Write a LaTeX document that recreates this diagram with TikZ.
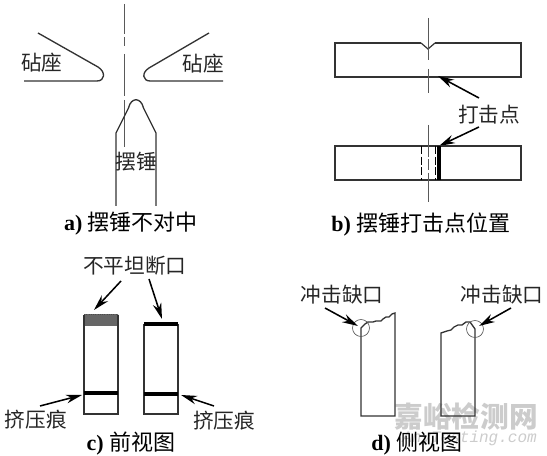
\documentclass[tikz,border=0pt]{standalone}
\usepackage{fontspec}
\setmainfont{Liberation Serif}
\setmonofont{Liberation Mono}
\newfontfamily\cjk{Noto Sans CJK SC}
\usetikzlibrary{arrows.meta}
\tikzset{
 ln/.style={line width=0.9pt,draw=black!80},
 axis/.style={line width=0.7pt,draw=black!65},
 pointer/.style={line width=1.15pt,draw=black,-{Stealth[length=12pt,width=6.5pt]}},
 lab/.style={inner sep=0pt,font=\cjk\fontsize{15.5}{15.5}\selectfont,text=black!85},
 capt/.style={inner sep=0pt,font=\fontsize{16.5}{16.5}\selectfont,text=black},
}
\newcommand{\cp}[2]{{\bfseries #1}~{\cjk #2}}
\begin{document}
\begin{tikzpicture}[x=0.75pt,y=-0.75pt]
\useasboundingbox (0,0) rectangle (547,456);
% watermark
\node[inner sep=0pt,text=black!20,font=\cjk\bfseries\fontsize{21.5}{21.5}\selectfont] (wm) at (466,416) {嘉峪检测网};
\node[inner sep=0pt,anchor=east,text=black!20,font=\ttfamily\itshape\fontsize{12}{12}\selectfont] (wm2) at (537,438) {AnyTesting.com};
% a
\draw[axis] (124,4)--(124,34) (124,37)--(124,46) (124,54)--(124,96) (124,100)--(124,147);
\draw[ln,line width=1pt] (38,33)--(98,67) .. controls (106,72) and (105,81) .. (97,81)--(24,81);
\draw[ln,line width=1pt] (209,33)--(149,68) .. controls (141,73) and (143,81) .. (150,81)--(223,81);
\draw[ln,line width=1pt] (116,206)--(116,133)--(128.5,108) .. controls (131,97) and (141,97) .. (143.5,108)--(156,133)--(156,206);
\node[lab] (a1) at (42,63) {砧座};
\node[lab] (a2) at (203,64) {砧座};
\node[lab] (a3) at (136,162) {摆锤};
\node[capt] (ca) at (131,224) {\cp{a)}{摆锤不对中}};
% b
\draw[ln] (421,43)--(335,43)--(335,77)--(521,77)--(521,43)--(435,43);
\draw[ln] (421,43)--(428,49)--(435,43);
\draw[axis] (428,18)--(428,60) (428,69)--(428,93);
\node[lab] (b1) at (489,115) {打击点};
\coordinate (b2) at (438,76);
\coordinate (b3) at (439,146);
\coordinate (b4) at (479,98);
\coordinate (b5) at (479,127);
\draw[pointer] (b4)--(b2);
\draw[pointer] (b5)--(b3);
\draw[ln,line width=1.1pt] (335,146) rectangle (521,180);
\draw[axis] (428,125)--(428,146) (428,180)--(428,202);
\draw[axis,dash pattern=on 8pt off 2pt] (428,146)--(428,180);
\draw[line width=0.5pt,dash pattern=on 6pt off 2pt] (421,146)--(421,180) (435,146)--(435,180);
\fill[black] (436.5,146) rectangle (440.5,180);
\node[capt] (cb) at (421,225) {\cp{b)}{摆锤打击点位置}};
% c
\fill[black!60] (84,314.5) rectangle (118,326);
\draw[ln,line width=1pt] (84,315)--(84,414)--(118,414)--(118,315);
\draw[densely dotted,line width=0.7pt,black!70] (84,314)--(118,314);
\fill[black] (84,391) rectangle (118,395.5);
\draw[ln,line width=1pt] (144,324)--(144,414)--(178,414)--(178,324);
\fill[black] (144,322.5) rectangle (178,326.5);
\fill[black] (144,392) rectangle (178,396);
\node[lab] (c1) at (135,266) {不平坦断口};
\node[lab] (c2) at (36,420) {挤压痕};
\node[lab] (c3) at (224,421) {挤压痕};
\coordinate (c4) at (94,310);
\coordinate (c5) at (162,319);
\coordinate (c6) at (82,395);
\coordinate (c7) at (181,395);
\coordinate (c8) at (121,281);
\coordinate (c9) at (149,279);
\coordinate (c10) at (40,406);
\coordinate (c11) at (214,406);
\draw[pointer] (c8)--(c4);
\draw[pointer] (c9)--(c5);
\draw[pointer] (c10)--(c6);
\draw[pointer] (c11)--(c7);
\node[capt] (cc) at (131,444) {\cp{c)}{前视图}};
% d
\draw[ln,line width=1pt] (361,328)--(361,416)--(395,416)--(395,313)--(392,314)--(389,317)--(386,317)--(383,319)--(381,321)--(376,321)--(373,322)--(368,322)--(365,324)--cycle;
\draw[ln,line width=1pt] (441,333)--(441,416)--(475,416)--(475,329)--(470,322)--(466,322)--(462,325)--(458,325)--(454,327)--(451,330)--(447,331)--(444,332)--cycle;
\draw[line width=0.5pt,black!65] (361,328) circle[radius=8.5];
\draw[line width=0.5pt,black!65] (475,329) circle[radius=8.5];
\node[lab] (d1) at (342,295) {冲击缺口};
\node[lab] (d2) at (502,295) {冲击缺口};
\coordinate (d3) at (325,308);
\coordinate (d4) at (358,326);
\coordinate (d5) at (511,308);
\coordinate (d6) at (479,326);
\draw[pointer] (d3)--(d4);
\draw[pointer] (d5)--(d6);
\node[capt] (cd) at (417,444) {\cp{d)}{侧视图}};
\end{tikzpicture}
\end{document}
